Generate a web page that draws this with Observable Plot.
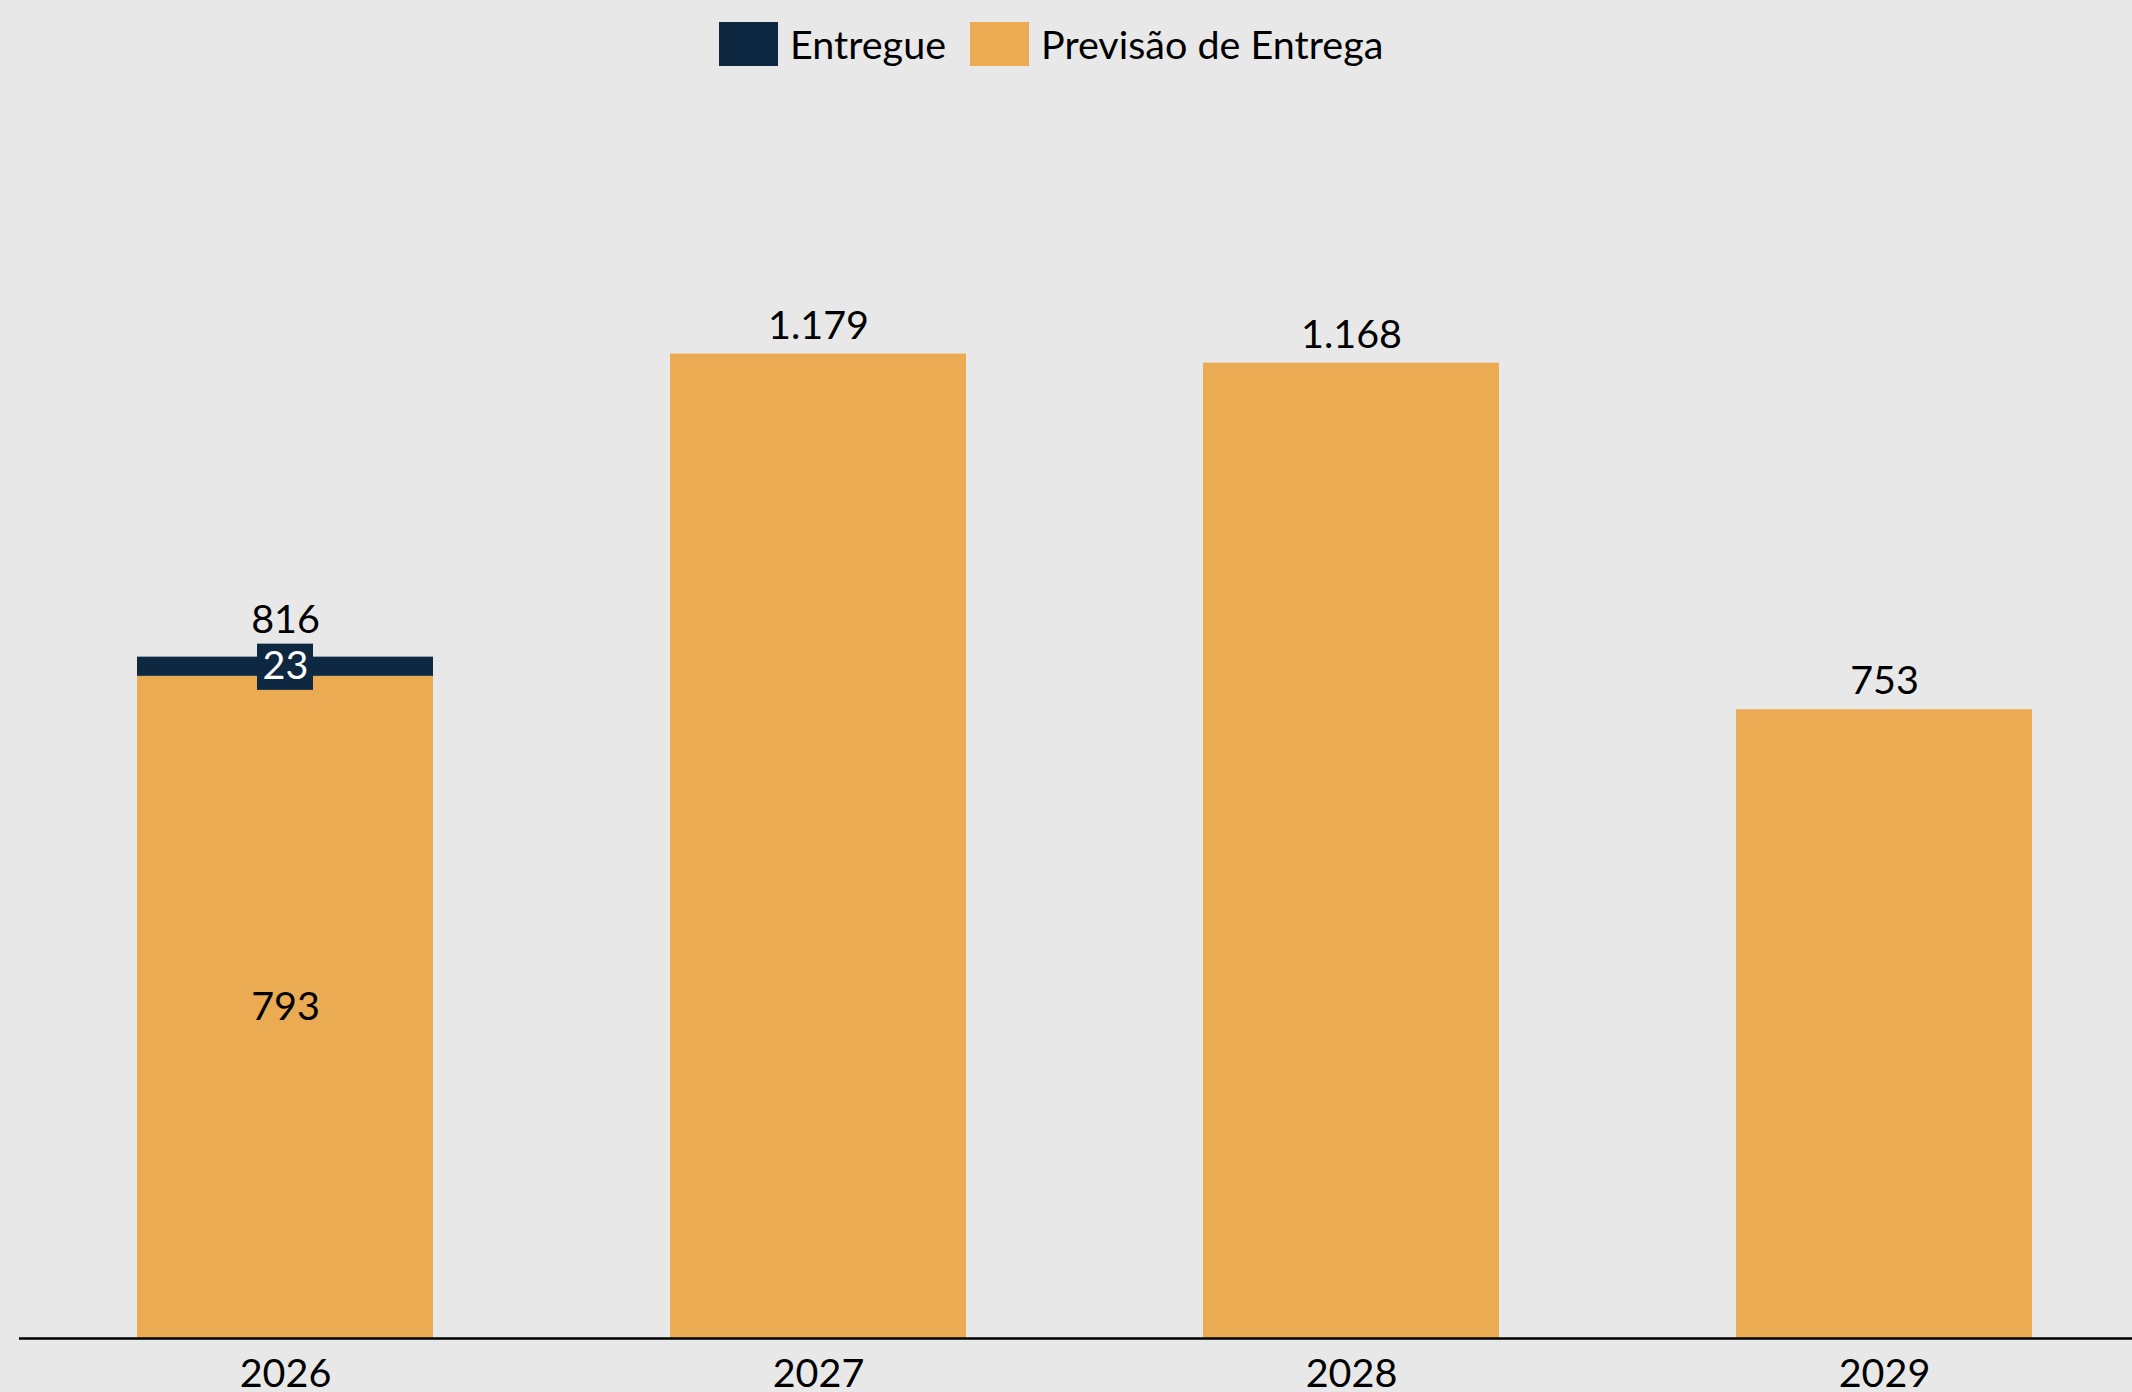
<!DOCTYPE html>
<html>
<head>
<meta charset="utf-8">
<script src="https://cdn.jsdelivr.net/npm/d3@7"></script>
<script src="https://cdn.jsdelivr.net/npm/@observablehq/plot@0.6"></script>
<style>
  html, body { margin: 0; padding: 0; background: #e8e8e8; overflow: hidden; }
  #legend { position: relative; height: 88px; font-family: Lato, "Open Sans", sans-serif; font-size: 39.5px; color: #000; }
  #legend .items { position: absolute; left: 719px; top: 22px; display: flex; align-items: center; height: 44px; }
  #legend .sw { width: 59px; height: 44px; margin-right: 12px; }
  #legend .lab { margin-right: 24px; line-height: 44px; }
  #chart svg { display: block; }
</style>
</head>
<body>
<div id="legend"><div class="items"></div></div>
<div id="chart"></div>
<script>
// ---- data ----
const years = ["2026", "2027", "2028", "2029"];
const entregue = [23, 0, 0, 0];
const previsao = [793, 1179, 1168, 753];
const totals = [816, 1179, 1168, 753];
const seriesNames = ["Entregue", "Previsão de Entrega"];
const seriesColors = ["#0E2841", "#EBAB52"];

// ---- formatting (pt-BR thousands separator) ----
const fmt = d3.formatLocale({decimal: ",", thousands: ".", grouping: [3], currency: ["R$", ""]}).format(",d");

// ---- legend ----
const items = document.querySelector("#legend .items");
seriesNames.forEach((s, i) => {
  const sw = document.createElement("div");
  sw.className = "sw";
  sw.style.background = seriesColors[i];
  const lab = document.createElement("div");
  lab.className = "lab";
  lab.textContent = s;
  items.appendChild(sw);
  items.appendChild(lab);
});

// ---- tables ----
const rows = [];
years.forEach((y, i) => {
  rows.push({year: y, series: seriesNames[1], value: previsao[i]});
  if (entregue[i] > 0) rows.push({year: y, series: seriesNames[0], value: entregue[i]});
});
const entRows = years.map((y, i) => ({year: y, lo: previsao[i], hi: previsao[i] + entregue[i], v: entregue[i]})).filter(d => d.v > 0);
const prevLabelRows = years.map((y, i) => ({year: y, v: previsao[i], has: entregue[i] > 0})).filter(d => d.has);
const totalRows = years.map((y, i) => ({year: y, v: totals[i], has: entregue[i] > 0}));

const FS = 39.5;

const chart = Plot.plot({
  width: 2132,
  height: 1304,
  marginLeft: 19,
  marginRight: 0,
  marginTop: 81,
  marginBottom: 54,
  style: {background: "#e8e8e8", fontFamily: "Lato, 'Open Sans', sans-serif", fontSize: FS + "px", color: "#000"},
  x: {domain: years, range: [19, 2151], paddingInner: 0.444, paddingOuter: 0.222, axis: null},
  y: {domain: [0, 1400], axis: null},
  color: {domain: seriesNames, range: seriesColors},
  marks: [
    Plot.barY(rows, {x: "year", y: "value", fill: "series"}),
    Plot.ruleY([0], {stroke: "#000", strokeWidth: 2.5}),
    Plot.axisX({tickSize: 0, tickPadding: 20, fontSize: FS, label: null}),
    // label box for delivered value
    Plot.barY(entRows, {x: "year", y1: "lo", y2: "hi", fill: seriesColors[0], insetLeft: 120, insetRight: 120, insetTop: -13, insetBottom: -14}),
    Plot.text(entRows, {x: "year", y: d => (d.lo + d.hi) / 2, text: d => fmt(d.v), fill: "#fff", fontSize: FS, lineAnchor: "middle"}),
    // forecast segment label (only when stacked)
    Plot.text(prevLabelRows, {x: "year", y: d => d.v / 2, text: d => fmt(d.v), fill: "#000", fontSize: FS, lineAnchor: "middle"}),
    // totals: plain bars
    Plot.text(totalRows.filter(d => !d.has), {x: "year", y: "v", text: d => fmt(d.v), fill: "#000", fontSize: FS, lineAnchor: "middle", dy: -28}),
    // totals: stacked bars (label lifted above the delivered box)
    Plot.text(totalRows.filter(d => d.has), {x: "year", y: "v", text: d => fmt(d.v), fill: "#000", fontSize: FS, lineAnchor: "middle", dy: -37})
  ]
});
document.getElementById("chart").appendChild(chart);
</script>
</body>
</html>
